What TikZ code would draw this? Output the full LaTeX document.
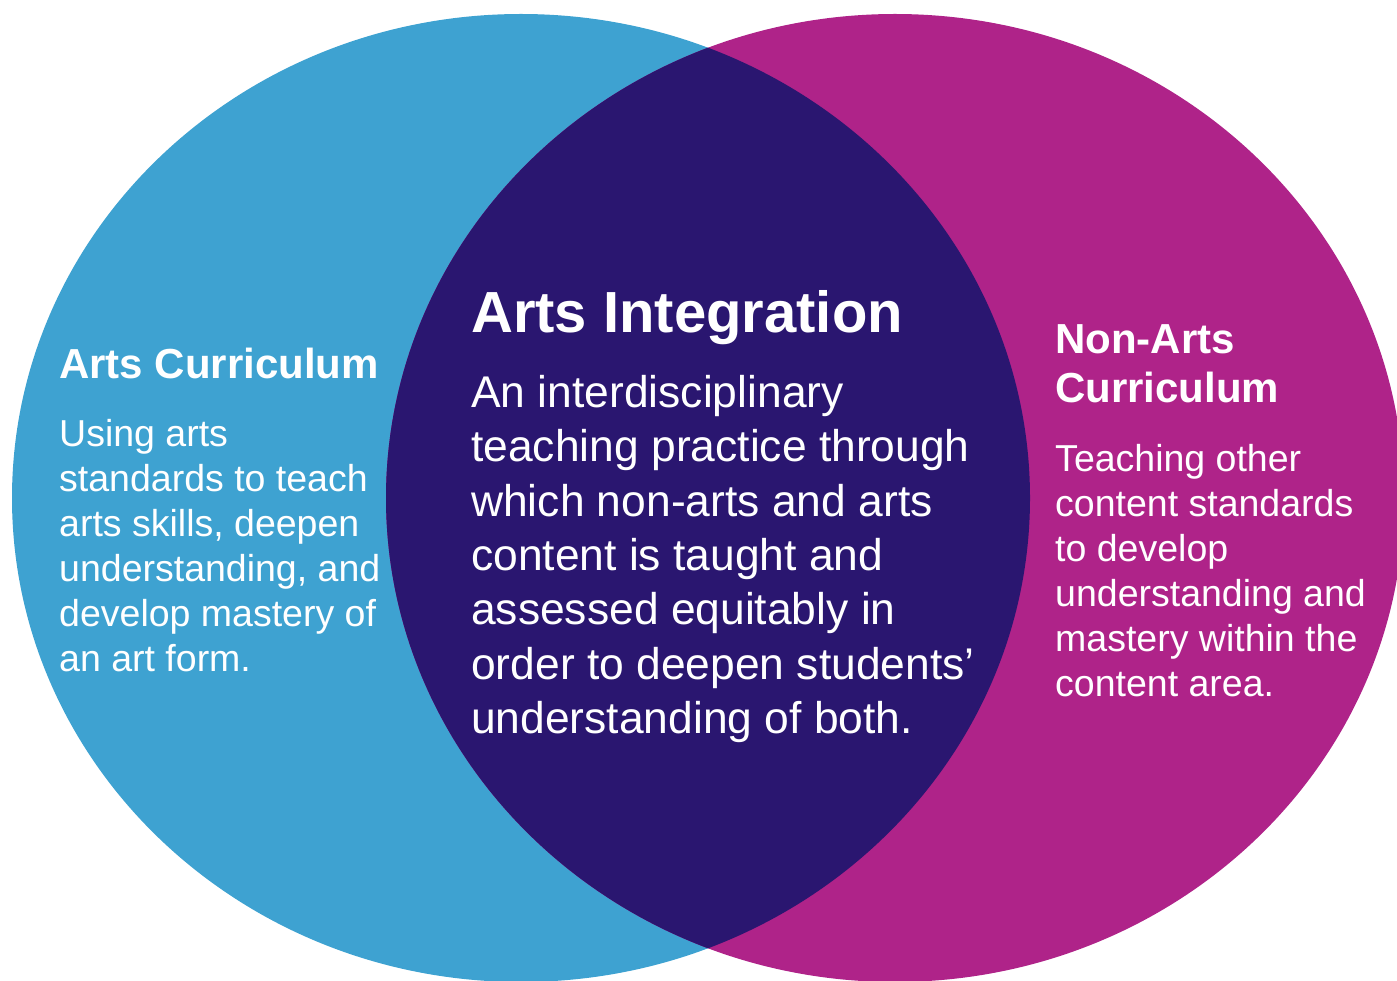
\documentclass[tikz,border=0pt]{standalone}
\usepackage{fontspec}
\setmainfont{Liberation Sans}
\usepackage{tikz}

\definecolor{artsblue}{RGB}{62,162,209}
\definecolor{otherpink}{RGB}{175,35,137}
\definecolor{mixnavy}{RGB}{42,22,112}

\begin{document}
\begin{tikzpicture}[x=1pt, y=-1pt,
    heading/.style={anchor=base west, inner sep=0pt, text=white, align=left,
        font=\bfseries\fontsize{42}{49.4}\selectfont},
    blurb/.style={anchor=base west, inner sep=0pt, text=white, align=left,
        font=\fontsize{37.5}{45}\selectfont}]
    \useasboundingbox (0,0) rectangle (1397,981);
    \coordinate (arts) at (521,498);
    \coordinate (other) at (895,498);
    % the two sets and their overlap
    \fill[artsblue] (arts) ellipse [x radius=509, y radius=484];
    \fill[otherpink] (other) ellipse [x radius=509, y radius=484];
    \begin{scope}
        \clip (arts) ellipse [x radius=509, y radius=484];
        \fill[mixnavy] (other) ellipse [x radius=509, y radius=484];
    \end{scope}
    % left (base = last line)
    \node[heading] (artshead) at (59,378.3) {Arts Curriculum};
    \node[blurb] (artsbody) at (59,671.7)
        {Using arts\\standards to teach\\arts skills, deepen\\understanding, and\\develop mastery of\\an art form.};
    % middle
    \node[heading, font=\bfseries\fontsize{58}{66}\selectfont] (mixhead) at (471,332.7)
        {Arts Integration};
    \node[blurb, font=\fontsize{44.4}{54.3}\selectfont] (mixbody) at (471,733.3)
        {An interdisciplinary\\teaching practice through\\which non-arts and arts\\content is taught and\\assessed equitably in\\order to deepen students’\\understanding of both.};
    % right
    \node[heading] (otherhead) at (1055,402.7) {Non-Arts\\Curriculum};
    \node[blurb] (otherbody) at (1055,696.7)
        {Teaching other\\content standards\\to develop\\understanding and\\mastery within the\\content area.};
\end{tikzpicture}
\end{document}
